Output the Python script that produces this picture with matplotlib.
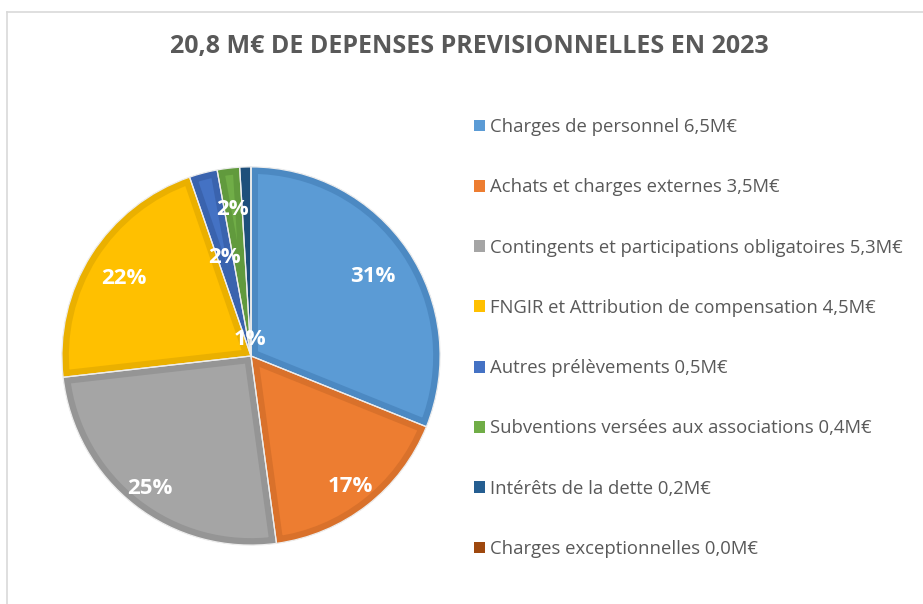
import numpy as np
import matplotlib.pyplot as plt
from matplotlib.patches import Patch, Wedge
from matplotlib.lines import Line2D

# Data (M€)
labels = ['Charges de personnel 6,5M€',
          'Achats et charges externes 3,5M€',
          'Contingents et participations obligatoires 5,3M€',
          'FNGIR et Attribution de compensation 4,5M€',
          'Autres prélèvements 0,5M€',
          'Subventions versées aux associations 0,4M€',
          'Intérêts de la dette 0,2M€',
          'Charges exceptionnelles 0,0M€']
values = [6.5, 3.5, 5.3, 4.5, 0.5, 0.4, 0.2, 0.0]
title = '20,8 M€ DE DEPENSES PREVISIONNELLES EN 2023'

colors = ['#5B9BD5', '#ED7D31', '#A5A5A5', '#FFC000',
          '#4472C4', '#70AD47', '#255E91', '#9E480E']
edges = ['#4C89C2', '#D9712B', '#959595', '#EAB000',
         '#3A63AE', '#619A3D', '#1E4F7B', '#873C0B']
# label distance from centre (fraction of radius), like Excel best fit
label_r = [0.77, 0.85, 0.86, 0.79, 0.55, 0.79, 0.10, 0.5]

plt.rcParams['font.family'] = ['Open Sans', 'DejaVu Sans']

fig = plt.figure(figsize=(9.23, 6.04), dpi=100)

# chart frame
fig.add_artist(Line2D([7/923, 7/923], [0, 1-12/604], color='#D9D9D9', lw=1.2))
fig.add_artist(Line2D([7/923, 1], [1-12/604, 1-12/604], color='#D9D9D9', lw=1.2))

ax = fig.add_axes([60/923, (604-356-191)/604, 382/923, 382/604])
wedges, _ = ax.pie(values, colors=colors, startangle=90, counterclock=False,
                   radius=0.99, wedgeprops=dict(linewidth=0))
# darker inner border: thick stroke clipped to its own wedge
for w, ec in zip(wedges, edges):
    band = Wedge(w.center, w.r, w.theta1, w.theta2, facecolor='none',
                 edgecolor=ec, linewidth=10, joinstyle='miter')
    ax.add_patch(band)
    band.set_clip_path(w)
# thin light separators
for w in wedges:
    ax.add_patch(Wedge(w.center, w.r, w.theta1, w.theta2, facecolor='none',
                       edgecolor='#EDEDED', linewidth=0.9))

total = sum(values)
for w, v, r in zip(wedges, values, label_r):
    pct = v / total * 100
    if pct < 0.5:
        continue
    ang = np.deg2rad((w.theta1 + w.theta2) / 2)
    ax.text(r * np.cos(ang), r * np.sin(ang) - 0.015, f'{pct:.0f}%',
            ha='center', va='center', color='white', fontsize=16,
            fontweight='bold', zorder=5)
ax.set_xlim(-1, 1)
ax.set_ylim(-1, 1)
ax.set_aspect('equal')
ax.axis('off')

fig.text(0.509, 1-47/604, title, ha='center', va='center', fontsize=18,
         fontweight='bold', color='#595959')

handles = [Patch(facecolor=c, edgecolor='none') for c in colors]
fig.legend(handles, labels, loc='center left', bbox_to_anchor=(474/923, 1-338/604),
           frameon=False, fontsize=13.3, labelcolor='#595959',
           handlelength=0.6, handleheight=0.6, handletextpad=0.25,
           labelspacing=2.29, borderpad=0, borderaxespad=0)

fig.savefig('out.png', dpi=100)
